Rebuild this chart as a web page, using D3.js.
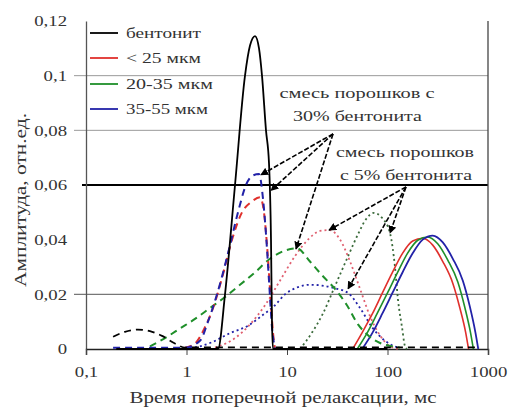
<!DOCTYPE html>
<html>
<head>
<meta charset="utf-8">
<script src="https://cdn.jsdelivr.net/npm/d3@7"></script>
<style>
  html, body { margin: 0; padding: 0; background: #fff; }
  svg text { font-family: "Liberation Serif", "DejaVu Serif", "Noto Serif", "Times New Roman", serif !important; }
</style>
</head>
<body>
<svg id="chart" width="511" height="409"></svg>
<script>
// Relaxation time axis ticks (ms) and amplitude ticks
const xTicks = [0.1, 1, 10, 100, 1000];
const xTickLabels = ["0,1", "1", "10", "100", "1000"];
const yTicks = [0, 0.02, 0.04, 0.06, 0.08, 0.1, 0.12];
const yTickLabels = ["0", "0,02", "0,04", "0,06", "0,08", "0,1", "0,12"];

// Legend entries
const legendLabels = ["бентонит", "< 25 мкм", "20-35 мкм", "35-55 мкм"];

// Pure bentonite
const bentoniteT = [0.2, 1.0, 2.058, 2.416, 3.039, 3.821, 4.284, 4.804, 5.266, 5.639, 6.18, 6.62, 6.93, 7.09, 7.256, 20, 100];
const bentoniteV = [0, 0, 0, 0.02, 0.06, 0.1, 0.111, 0.1145, 0.11, 0.1, 0.08, 0.068, 0.04, 0.01, 0, 0, 0];

// Pure powders (solid)
const powder25T = [45, 56, 71, 89, 112, 141, 178, 224, 282, 355, 447, 525, 600, 640];
const powder25V = [0, 0.006, 0.013, 0.0205, 0.028, 0.035, 0.0395, 0.0405, 0.038, 0.032, 0.024, 0.015, 0.006, 0];
const powder2035T = [50, 63, 79, 100, 126, 158, 200, 251, 316, 398, 501, 590, 670, 715];
const powder2035V = [0, 0.006, 0.013, 0.0205, 0.028, 0.035, 0.0398, 0.041, 0.0385, 0.0325, 0.0245, 0.015, 0.006, 0];
const powder3555T = [56, 71, 89, 112, 141, 178, 224, 282, 355, 447, 562, 660, 750, 800];
const powder3555V = [0, 0.006, 0.013, 0.0205, 0.028, 0.035, 0.040, 0.0415, 0.039, 0.033, 0.025, 0.0155, 0.006, 0];

// Mixtures with 30% bentonite (dashed)
const mix30bT = [0.186, 0.244, 0.329, 0.433, 0.571, 0.768, 0.966, 1.2, 3, 10, 30, 100, 300, 832];
const mix30bV = [0.0045, 0.0063, 0.0071, 0.0065, 0.0048, 0.002, 0.0005, 0.0006, 0.0006, 0.0006, 0.0006, 0.0006, 0.0006, 0.0006];
const mix30_25T = [0.966, 1.215, 1.528, 1.878, 2.256, 2.837, 3.567, 4.485, 5.386, 5.903, 6.324, 6.773, 7.256, 7.596];
const mix30_25V = [0.0005, 0.002, 0.008, 0.016, 0.026, 0.04, 0.05, 0.054, 0.0555, 0.05, 0.038, 0.022, 0.006, 0];
const mix30_2035T = [0.433, 0.611, 0.862, 1.215, 1.713, 2.416, 3.407, 4.804, 6.773, 9.552, 12.58, 16.94, 22.3, 30.0, 39.5, 50.9, 64.0, 84.2, 110.9, 133.2];
const mix30_2035V = [0.001, 0.004, 0.0075, 0.011, 0.015, 0.019, 0.0235, 0.028, 0.033, 0.036, 0.0368, 0.032, 0.027, 0.022, 0.016, 0.009, 0.005, 0.0022, 0.001, 0.0005];
const mix30_3555T = [0.186, 0.433, 0.966, 1.362, 1.636, 2.012, 2.588, 3.254, 3.908, 4.589, 5.266, 5.77, 6.18, 6.62, 7.09, 7.596];
const mix30_3555V = [0.0005, 0.0005, 0.0005, 0.003, 0.01, 0.02, 0.035, 0.05, 0.06, 0.0635, 0.064, 0.055, 0.042, 0.025, 0.008, 0];

// Mixtures with 5% bentonite (dotted)
const mix5_25T = [1.921, 3.039, 4.284, 6.04, 8.518, 12.01, 16.18, 21.3, 26.8, 33.7, 42.4, 53.3, 67.0, 84.2, 105.9, 133.2];
const mix5_25V = [0.0005, 0.004, 0.009, 0.016, 0.025, 0.034, 0.04, 0.0432, 0.0435, 0.04, 0.032, 0.022, 0.012, 0.005, 0.001, 0];
const mix5_2035T = [13.47, 17.73, 22.8, 30.0, 39.5, 50.9, 61.1, 73.4, 88.2, 105.9, 118.7, 127.2, 139.4, 149.3, 156.3];
const mix5_2035V = [0, 0.006, 0.013, 0.023, 0.033, 0.042, 0.0475, 0.0498, 0.048, 0.0424, 0.03, 0.018, 0.008, 0.001, 0];
const mix5_3555T = [1.083, 1.362, 1.794, 2.709, 4.092, 5.77, 7.596, 9.552, 12.58, 16.94, 22.3, 30.0, 40.5, 53.3, 70.1, 94.4, 127.2];
const mix5_3555V = [0.0005, 0.001, 0.0025, 0.0058, 0.0085, 0.0125, 0.016, 0.02, 0.0225, 0.0235, 0.0232, 0.0222, 0.0205, 0.015, 0.008, 0.003, 0.0005];

// Callout anchors and arrow targets [time, amplitude]
const note30Anchor = [28.7, 0.0787];
const note30Targets = [[5.5, 0.0637], [6.93, 0.058], [12.3, 0.0366]];
const note5Anchor = [152.7, 0.0593];
const note5Targets = [[26.2, 0.0435], [40.5, 0.022], [105.9, 0.0424]];

const RED = "#e0302c", GREEN = "#1f8f2a", BLUE = "#2222a8", BLACK = "#000";
const TEXT = "#333";

const svg = d3.select("#chart");
const plotLeft = 86, plotRight = 488, plotTop = 21, plotBottom = 349;
const x = d3.scaleLog().domain([0.1, 1000]).range([plotLeft, plotRight]);
const y = d3.scaleLinear().domain([0, 0.12]).range([plotBottom, plotTop]);

// Stretch a text element horizontally to a given width
function fit(sel, width) {
  sel.attr("textLength", width).attr("lengthAdjust", "spacingAndGlyphs");
}
function widen(sel, k) {
  sel.each(function () {
    const w = this.getComputedTextLength();
    d3.select(this).attr("textLength", w * k).attr("lengthAdjust", "spacingAndGlyphs");
  });
}

// Horizontal grid
const gridStyle = {0.02: ["#777", 1.2], 0.06: ["#000", 2], 0.08: ["#9a9a9a", 1], 0.1: ["#9a9a9a", 1]};
Object.keys(gridStyle).forEach(k => {
  const v = +k;
  svg.append("line")
    .attr("x1", plotLeft - (v === 0.06 ? 4 : 12)).attr("x2", plotRight)
    .attr("y1", y(v)).attr("y2", y(v))
    .attr("stroke", gridStyle[k][0]).attr("stroke-width", gridStyle[k][1]);
});

// Axes
const yAxis = d3.axisLeft(y).tickValues(yTicks).tickSize(0)
  .tickFormat((d, i) => yTickLabels[i]);
const gy = svg.append("g").attr("transform", `translate(${plotLeft},0)`).call(yAxis);
gy.select(".domain").attr("stroke", "#555").attr("stroke-width", 1.3);
gy.selectAll("text").attr("font-size", 15).attr("x", -19).attr("fill", TEXT);
widen(gy.selectAll("text"), 1.25);

const xAxis = d3.axisBottom(x).tickValues(xTicks).tickSize(6)
  .tickFormat((d, i) => xTickLabels[i]);
const gx = svg.append("g").attr("transform", `translate(0,${plotBottom})`).call(xAxis);
gx.select(".domain").attr("stroke", "#222").attr("stroke-width", 1.5);
gx.selectAll(".tick line").attr("stroke", "#444");
gx.selectAll("text").attr("font-size", 15).attr("y", 17).attr("fill", TEXT);
widen(gx.selectAll("text"), 1.25);

// Right frame edge
svg.append("line").attr("x1", plotRight).attr("x2", plotRight).attr("y1", plotTop).attr("y2", plotBottom)
  .attr("stroke", "#444").attr("stroke-width", 1.3);

const line = d3.line().x(d => x(d[0])).y(d => y(d[1])).curve(d3.curveMonotoneX);
const zip = (T, V) => T.map((t, i) => [t, V[i]]);

const series = [
  // dotted: 5% bentonite
  {T: mix5_3555T, V: mix5_3555V, color: BLUE, dash: "2,3", w: 1.8},
  {T: mix5_25T, V: mix5_25V, color: "#e06070", dash: "2,3", w: 1.8},
  {T: mix5_2035T, V: mix5_2035V, color: "#3a6a3a", dash: "2,3", w: 1.8},
  // solid: pure powders
  {T: powder25T, V: powder25V, color: RED, dash: null, w: 1.6},
  {T: powder2035T, V: powder2035V, color: GREEN, dash: null, w: 1.6},
  {T: powder3555T, V: powder3555V, color: BLUE, dash: null, w: 1.8},
  // dashed: 30% bentonite
  {T: mix30_2035T, V: mix30_2035V, color: GREEN, dash: "7,5", w: 2},
  {T: mix30_25T, V: mix30_25V, color: RED, dash: "7,5", w: 2},
  {T: mix30_3555T, V: mix30_3555V, color: BLUE, dash: "7,5", w: 2},
  {T: mix30bT, V: mix30bV, color: BLACK, dash: "7,5", w: 1.8},
  // pure bentonite
  {T: bentoniteT, V: bentoniteV, color: BLACK, dash: null, w: 1.8}
];

svg.append("g").selectAll("path").data(series).join("path")
  .attr("d", s => line(zip(s.T, s.V)))
  .attr("fill", "none")
  .attr("stroke", s => s.color)
  .attr("stroke-width", s => s.w)
  .attr("stroke-dasharray", s => s.dash)
  .attr("stroke-linejoin", "round");

// Arrowhead marker
svg.append("defs").append("marker")
  .attr("id", "arrow").attr("viewBox", "0 0 10 10")
  .attr("refX", 9).attr("refY", 5)
  .attr("markerWidth", 8).attr("markerHeight", 8)
  .attr("markerUnits", "userSpaceOnUse")
  .attr("orient", "auto-start-reverse")
  .append("path").attr("d", "M0,0 L10,5 L0,10 z").attr("fill", "#000");

function callout(anchor, targets) {
  targets.forEach(tg => {
    svg.append("line")
      .attr("x1", x(anchor[0])).attr("y1", y(anchor[1]))
      .attr("x2", x(tg[0])).attr("y2", y(tg[1]))
      .attr("stroke", "#000").attr("stroke-width", 1.6)
      .attr("stroke-dasharray", "5,2")
      .attr("marker-end", "url(#arrow)");
  });
}
callout(note30Anchor, note30Targets);
callout(note5Anchor, note5Targets);

// Callout labels: [text, centre x, baseline y, width]
const calloutLines = [
  ["смесь порошков с", 357, 98, 155],
  ["30% бентонита", 357.5, 121, 129],
  ["смесь порошков", 405, 157, 138],
  ["с 5% бентонита", 406, 180, 132]
];
calloutLines.forEach(([s, cx, by, w]) => {
  svg.append("text").attr("font-size", 15)
    .attr("text-anchor", "middle").attr("x", cx).attr("y", by).attr("fill", TEXT)
    .text(s).call(fit, w);
});

// Legend
const legendColors = [BLACK, RED, GREEN, BLUE];
const legendRows = [33, 58, 84, 109];
const legendWidths = [75, 75, 87, 82];
legendLabels.forEach((name, i) => {
  const ly = legendRows[i];
  svg.append("line").attr("x1", 90).attr("x2", 118).attr("y1", ly).attr("y2", ly)
    .attr("stroke", legendColors[i]).attr("stroke-width", 1.8);
  svg.append("text").attr("x", 126).attr("y", ly + 5)
    .attr("font-size", 14).attr("fill", TEXT).text(name).call(fit, legendWidths[i]);
});

// Axis titles
svg.append("text").attr("text-anchor", "middle")
  .attr("transform", "translate(26,200) rotate(-90)").attr("fill", TEXT)
  .attr("font-size", 16).text("Амплитуда, отн.ед.").call(fit, 174);
svg.append("text").attr("text-anchor", "middle")
  .attr("x", 283).attr("y", 403).attr("font-size", 16).attr("fill", TEXT)
  .text("Время поперечной релаксации, мс").call(fit, 307);
</script>
</body>
</html>
